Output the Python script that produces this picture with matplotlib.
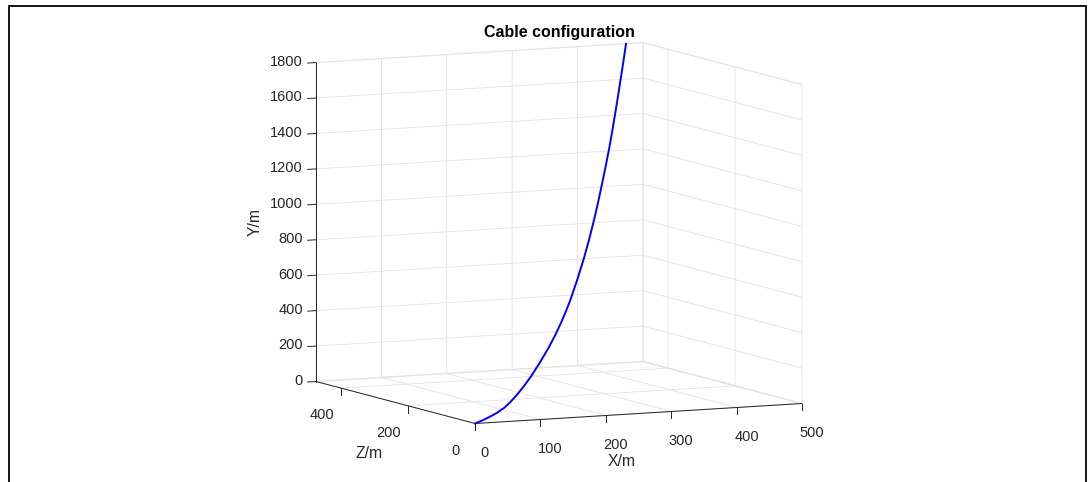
import matplotlib.pyplot as plt
from matplotlib.patches import Rectangle

plt.rcParams['font.family'] = ['Liberation Sans', 'DejaVu Sans']
plt.rcParams['grid.color'] = '#e2e2e2'
plt.rcParams['grid.linewidth'] = 0.6

# cable shape, metres
x_m = [0, 25, 50, 70, 91, 110, 130, 152, 175, 200, 229, 250, 270, 285, 298,
       320, 342, 358, 373, 386, 398, 409, 420, 429, 438, 447, 456, 465, 473]
y_m = [0, 1, 5, 11, 22, 40, 65, 98, 138, 190, 257, 313, 375, 428, 478,
       578, 690, 783, 880, 972, 1065, 1153, 1245, 1330, 1420, 1513, 1610, 1708, 1800]
z_m = [0, 25, 50, 70, 91, 110, 130, 152, 175, 200, 229, 250, 270, 285, 298,
       320, 342, 358, 373, 386, 398, 409, 420, 429, 438, 447, 456, 465, 473]

x_ticks = [0, 100, 200, 300, 400, 500]
y_ticks = [0, 200, 400, 600, 800, 1000, 1200, 1400, 1600, 1800]
z_ticks = [0, 200, 400]

fig = plt.figure(figsize=(10.92, 4.82), dpi=100)
ax = fig.add_axes([0.3003, 0.0371, 0.4121, 0.9336], projection='3d')
ax.set_proj_type('ortho')
ax.view_init(elev=7.3, azim=-115.7)
ax.set_box_aspect((362.9, 366.7, 321.6), zoom=1.3113)

# plot3 axes: X horizontal, Z depth, Y up
ax.plot(x_m, z_m, y_m, color='#0000ff', lw=1.4)

ax.set_xlim(0, 500)
ax.set_ylim(0, 475)
ax.set_zlim(0, 1800)
ax.set_xticks(x_ticks)
ax.set_yticks(z_ticks)
ax.set_zticks(y_ticks)
ax.tick_params(labelsize=10.5, colors='#262626')
ax.xaxis.set_tick_params(pad=2.5)
ax.yaxis.set_tick_params(pad=2.0)
ax.zaxis.set_tick_params(pad=-3.4)

for t in ax.zaxis.get_major_ticks():
    t.label1.set_horizontalalignment('right')
    t.label1.set_verticalalignment('center')

for axis in (ax.xaxis, ax.yaxis, ax.zaxis):
    axis.pane.set_facecolor('white')
    axis.pane.set_edgecolor('#e2e2e2')
    axis.line.set_color('#262626')
    axis.line.set_linewidth(0.7)
    axis._axinfo['tick']['inward_factor'] = 0.0
    axis._axinfo['tick']['linewidth'] = {True: 0.7, False: 0.5}
    axis._axinfo['tick']['color'] = '#262626'

# ticks on the floor edges hang straight down
ax.xaxis._get_tickdir = lambda *a, **k: 2
ax.yaxis._get_tickdir = lambda *a, **k: 2
ax.xaxis._axinfo['tick']['outward_factor'] = 0.27
ax.yaxis._axinfo['tick']['outward_factor'] = 0.27
# vertical axis ticks point out to the left
ax.zaxis._axinfo['tick']['outward_factor'] = 0.0
ax.zaxis._axinfo['tick']['inward_factor'] = 0.32

fig.text(559 / 1092, 1 - 32 / 482, 'Cable configuration', ha='center',
         va='center', fontsize=11.5, fontweight='bold')
fig.text(622 / 1092, 1 - 462 / 482, 'X/m', ha='center', va='center',
         fontsize=11.3, color='#262626')
fig.text(369 / 1092, 1 - 454 / 482, 'Z/m', ha='center', va='center',
         fontsize=11.3, color='#262626')
fig.text(255 / 1092, 1 - 222 / 482, 'Y/m', ha='center', va='center',
         rotation=90, fontsize=11.3, color='#262626')

# frame around the figure (bottom edge sits below the canvas)
fig.patches.append(Rectangle((8.5 / 1092, -0.1), (1085.5 - 8.5) / 1092, 1.1 - 5.5 / 482,
                             transform=fig.transFigure, fill=False,
                             edgecolor='black', lw=1.3))

fig.savefig('out.png', dpi=100)
